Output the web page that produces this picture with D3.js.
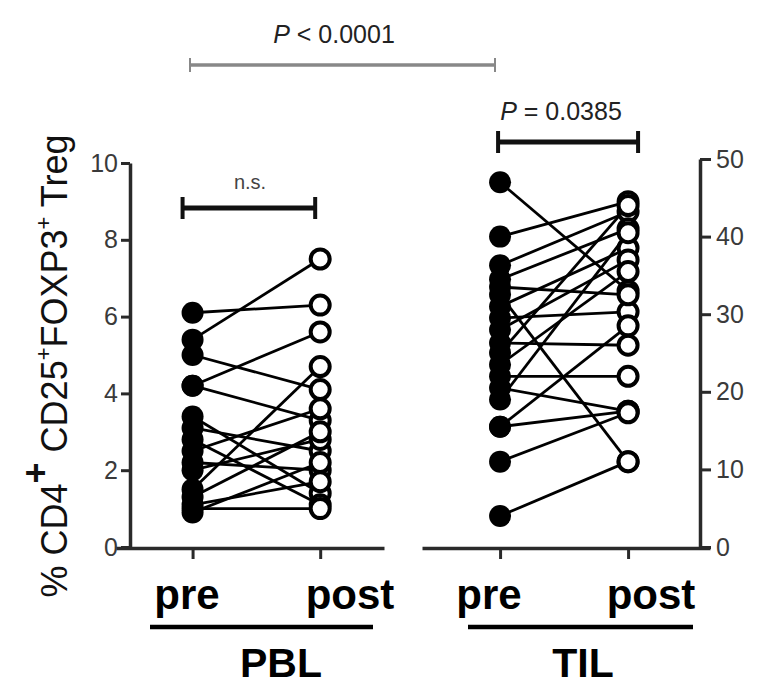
<!DOCTYPE html>
<html>
<head>
<meta charset="utf-8">
<script src="https://cdn.jsdelivr.net/npm/d3@7"></script>
<style>
  body { margin: 0; background: #fff; }
  svg { font-family: Arial, "Liberation Sans", sans-serif; }
</style>
</head>
<body>
<div id="chart"></div>
<script>
// paired values, one entry per patient
const pblPre  = [6.1, 5.4, 5.0, 4.2, 4.2, 3.4, 3.1, 2.8, 2.5, 2.2, 2.0, 1.5, 1.3, 1.1, 1.0, 0.9];
const pblPost = [6.3, 7.5, 4.1, 5.6, 3.3, 1.4, 2.5, 1.1, 3.6, 2.0, 2.8, 4.7, 3.0, 1.7, 1.0, 2.2];
const tilPre  = [47.0, 40.0, 36.3, 34.5, 32.5, 31.0, 29.5, 28.0, 26.3, 25.0, 23.5, 22.0, 20.5, 19.0, 15.5, 15.5, 11.0, 4.0, 33.5];
const tilPost = [33.0, 44.5, 43.2, 41.0, 11.0, 38.5, 30.3, 37.0, 26.0, 44.0, 35.5, 22.0, 17.5, 40.5, 28.5, 17.5, 17.3, 11.0, 32.5];
const pblTicks = [0, 2, 4, 6, 8, 10];
const tilTicks = [0, 10, 20, 30, 40, 50];
const groups = ["PBL", "TIL"];
const timepoints = ["pre", "post"];

const width = 759, height = 685;
const svg = d3.select("#chart").append("svg")
    .attr("width", width)
    .attr("height", height);

// scales - x domain padded so the baseline runs past the two tick marks
const yL = d3.scaleLinear().domain([0, 10]).range([547, 163]);
const yR = d3.scaleLinear().domain([0, 50]).range([547, 159]);
const xL = d3.scaleLinear().domain([-0.6, 1.5]).range([116, 384]);
const xR = d3.scaleLinear().domain([-0.61, 1.64]).range([422, 710]);

function styleAxis(g) {
    g.select(".domain").attr("stroke", "#2a2a2a").attr("stroke-width", 3.5);
    g.selectAll(".tick line").attr("stroke", "#2a2a2a").attr("stroke-width", 3);
    g.selectAll(".tick text").attr("fill", "#3a3a3a").attr("font-size", "25px");
}

// left y axis
svg.append("g")
    .attr("transform", "translate(130,0)")
    .call(d3.axisLeft(yL).tickValues(pblTicks).tickSize(9).tickSizeOuter(0).tickPadding(3))
    .call(styleAxis);

// right y axis
svg.append("g")
    .attr("transform", "translate(700,0)")
    .call(d3.axisRight(yR).tickValues(tilTicks).tickSize(11).tickSizeOuter(0).tickPadding(5))
    .call(styleAxis);

// x baselines
[xL, xR].forEach(x => {
    svg.append("g")
        .attr("transform", "translate(0,548)")
        .call(d3.axisBottom(x).tickValues([0, 1]).tickFormat("").tickSize(11).tickSizeOuter(0))
        .call(styleAxis);
});

function drawPairs(pre, post, x, y) {
    const g = svg.append("g");
    const pairs = pre.map((v, i) => ({ pre: v, post: post[i] }));
    g.selectAll("line.pair")
        .data(pairs)
        .join("line")
        .attr("class", "pair")
        .attr("x1", x(0)).attr("x2", x(1))
        .attr("y1", d => y(d.pre)).attr("y2", d => y(d.post))
        .attr("stroke", "#000")
        .attr("stroke-width", 2.8);
    g.selectAll("circle.pre")
        .data(pairs)
        .join("circle")
        .attr("class", "pre")
        .attr("cx", x(0))
        .attr("cy", d => y(d.pre))
        .attr("r", 11)
        .attr("fill", "#000");
    g.selectAll("circle.post")
        .data(pairs)
        .join("circle")
        .attr("class", "post")
        .attr("cx", x(1))
        .attr("cy", d => y(d.post))
        .attr("r", 9.5)
        .attr("fill", "#fff")
        .attr("stroke", "#000")
        .attr("stroke-width", 4);
}

drawPairs(pblPre, pblPost, xL, yL);
drawPairs(tilPre, tilPost, xR, yR);

// significance brackets
function bracket(x1, x2, y, h, color, w, tw) {
    svg.append("line")
        .attr("x1", x1).attr("x2", x2).attr("y1", y).attr("y2", y)
        .attr("stroke", color).attr("stroke-width", w);
    [x1, x2].forEach(x => {
        svg.append("line")
            .attr("x1", x).attr("x2", x).attr("y1", y - h).attr("y2", y + h)
            .attr("stroke", color).attr("stroke-width", tw);
    });
}
bracket(xL(0) - 10, xL(1) - 5, 208, 11, "#111", 5, 4);
bracket(xR(0) - 2, xR(1) + 10, 142, 11, "#111", 5, 4);
bracket(190, 495, 65, 7, "#888", 3.5, 2);

svg.append("text")
    .attr("x", 250).attr("y", 189)
    .attr("text-anchor", "middle")
    .attr("font-size", "20px")
    .attr("fill", "#444")
    .text("n.s.");

function pLabel(x, y, rest) {
    const t = svg.append("text")
        .attr("x", x).attr("y", y)
        .attr("text-anchor", "middle")
        .attr("font-size", "25px")
        .attr("fill", "#222");
    t.append("tspan").attr("font-style", "italic").text("P");
    t.append("tspan").text(rest);
}
pLabel(334, 43, " < 0.0001");
pLabel(561, 120, " = 0.0385");

// y axis title
const yt = svg.append("text")
    .attr("transform", "translate(67,366) rotate(-90)")
    .attr("text-anchor", "middle")
    .attr("font-size", "36px")
    .attr("fill", "#111");
yt.append("tspan").text("% CD4");
yt.append("tspan").attr("font-size", "36px").attr("font-weight", "bold").attr("dy", -19).text("+");
yt.append("tspan").attr("dy", 19).text(" CD25");
yt.append("tspan").attr("font-size", "22px").attr("dy", -16).text("+");
yt.append("tspan").attr("dy", 16).text("FOXP3");
yt.append("tspan").attr("font-size", "22px").attr("dy", -16).text("+");
yt.append("tspan").attr("dy", 16).text(" Treg");

// category labels under the baseline
const timeX = { PBL: [187, 350], TIL: [489, 651] };
const underline = { PBL: [150, 373], TIL: [468, 693] };
const groupX = { PBL: 281, TIL: 583 };
groups.forEach(gname => {
    timepoints.forEach((tp, i) => {
        svg.append("text")
            .attr("x", timeX[gname][i]).attr("y", 609)
            .attr("text-anchor", "middle")
            .attr("font-size", "42px")
            .attr("font-weight", "bold")
            .text(tp);
    });
    svg.append("line")
        .attr("x1", underline[gname][0]).attr("x2", underline[gname][1])
        .attr("y1", 627).attr("y2", 627)
        .attr("stroke", "#000").attr("stroke-width", 4.5);
    svg.append("text")
        .attr("x", groupX[gname]).attr("y", 677)
        .attr("text-anchor", "middle")
        .attr("font-size", "41px")
        .attr("font-weight", "bold")
        .text(gname);
});
</script>
</body>
</html>
